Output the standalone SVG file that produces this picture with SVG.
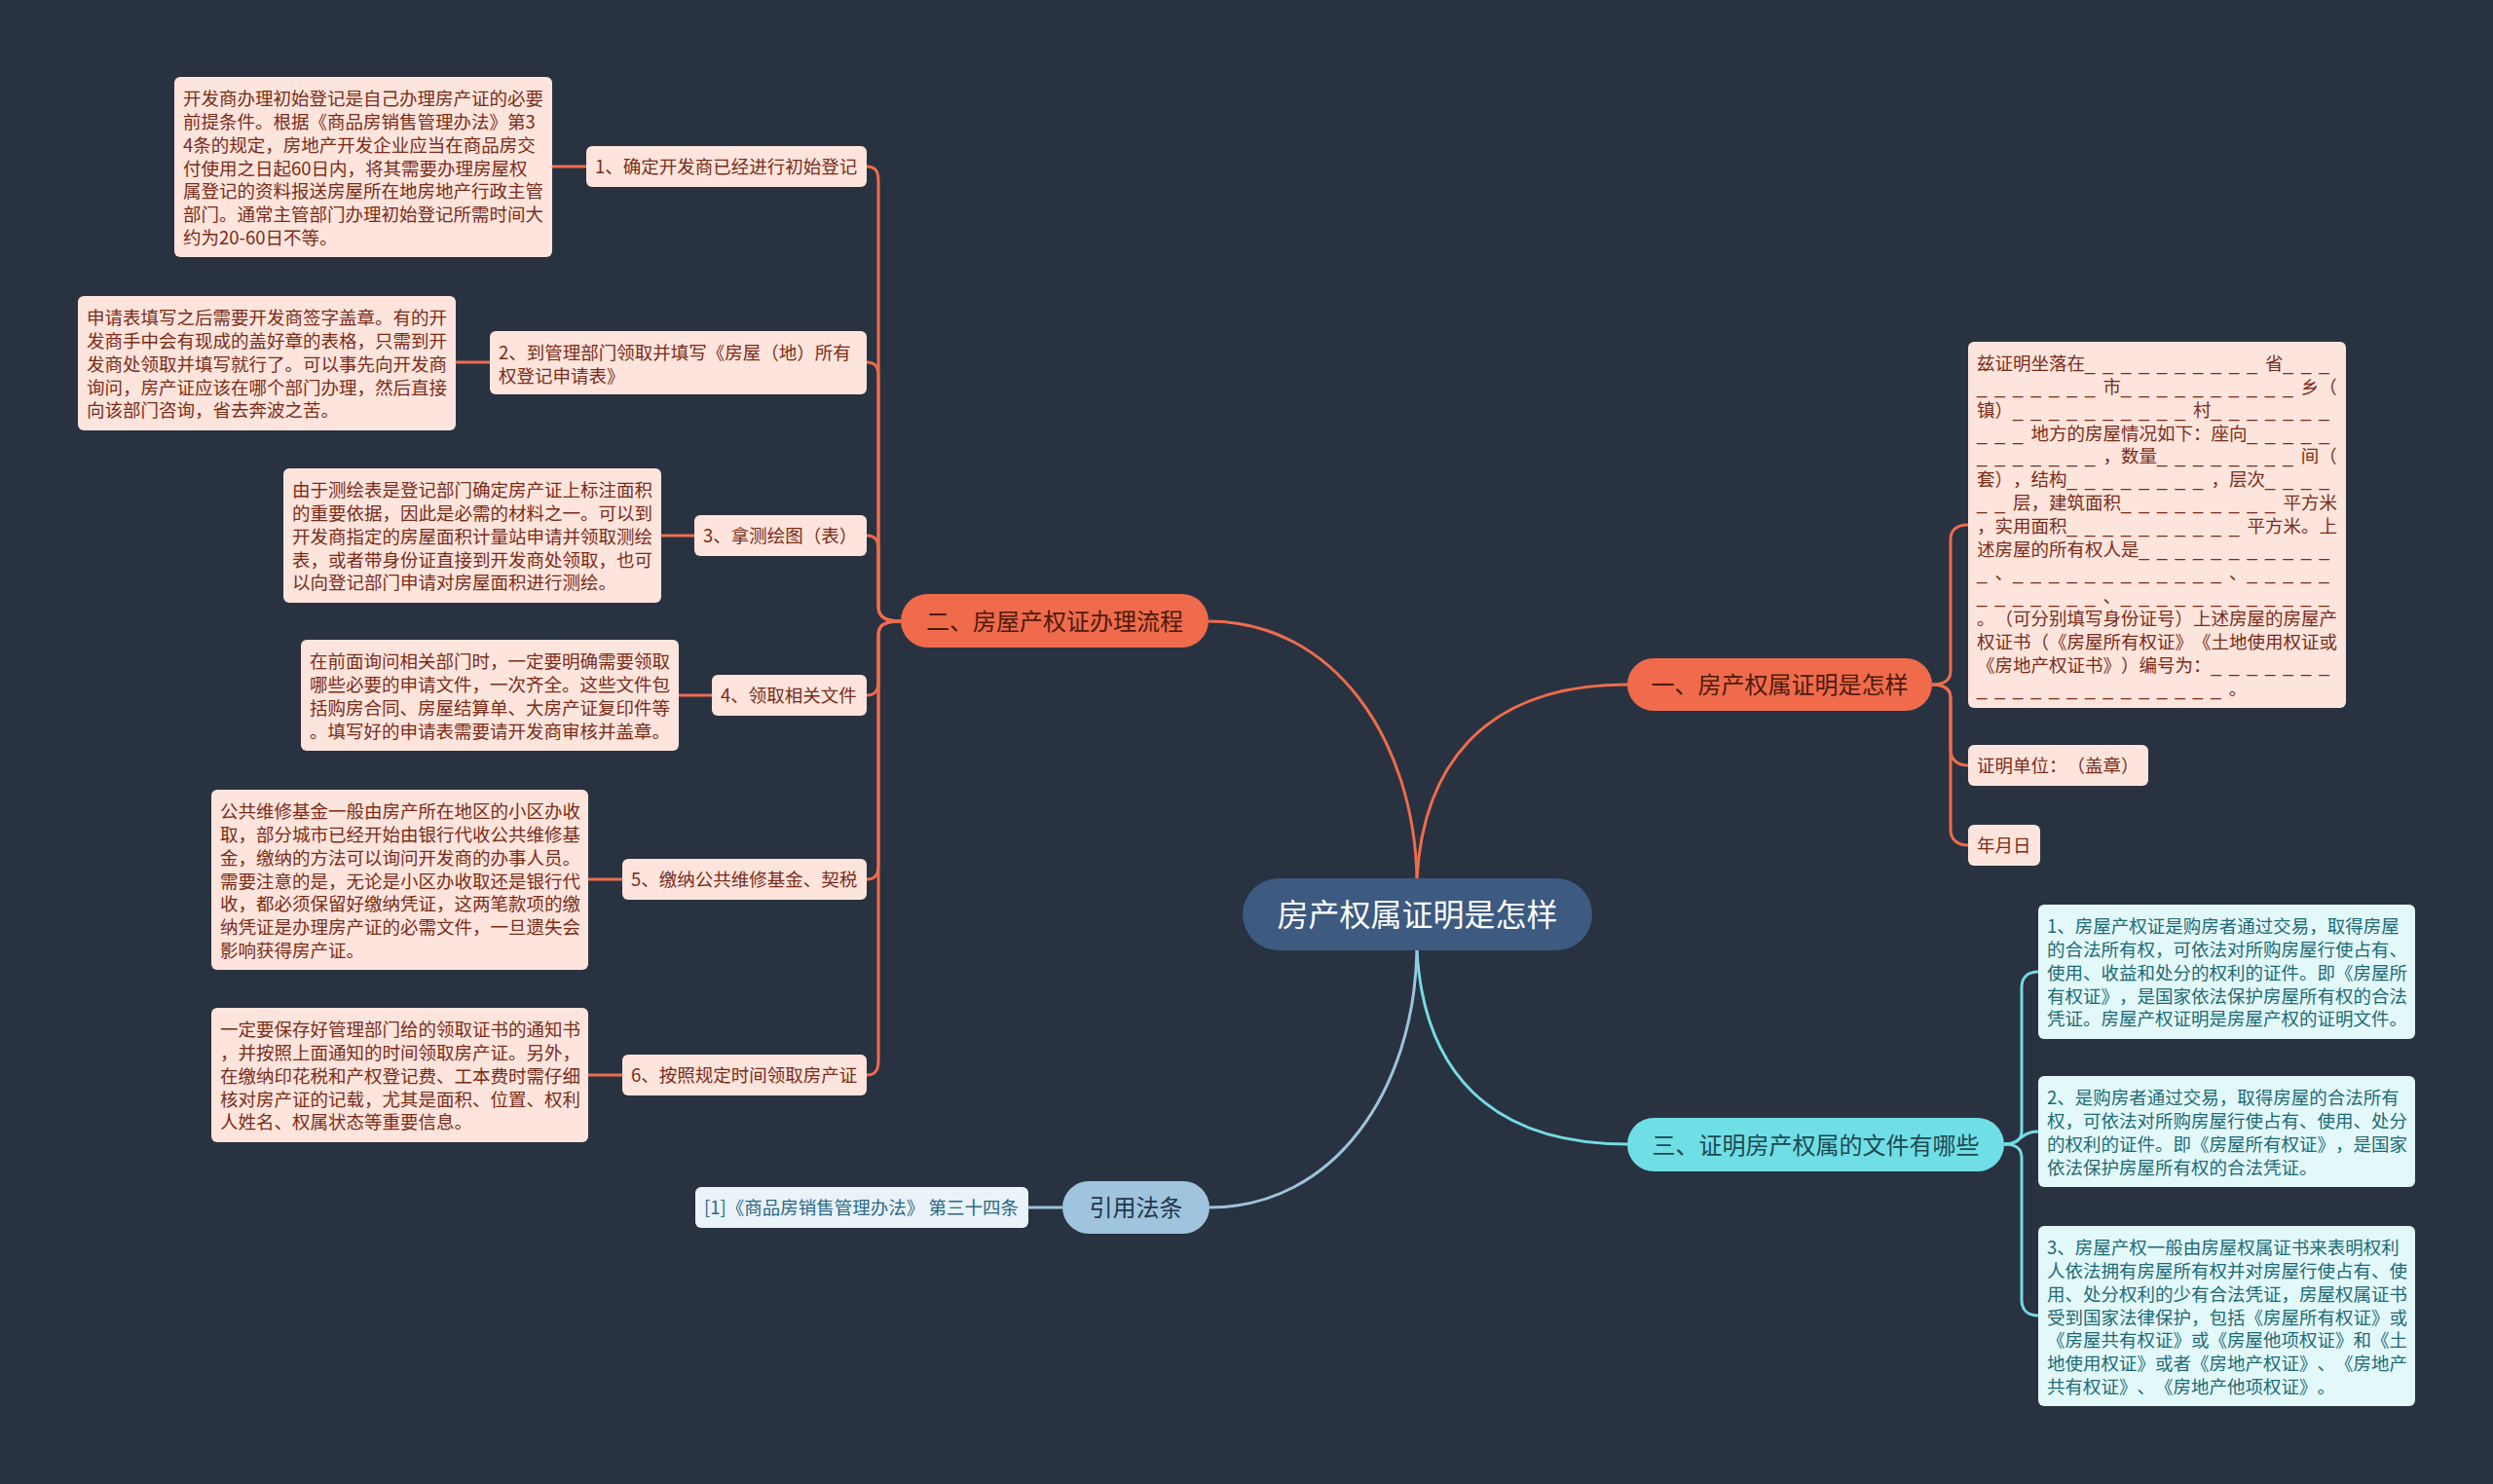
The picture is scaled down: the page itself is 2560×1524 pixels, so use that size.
<svg xmlns="http://www.w3.org/2000/svg" width="2560" height="1524" viewBox="0 0 2560 1524">
<style>
text{text-spacing-trim:space-all}
.t{font-family:"Noto Sans CJK SC","Noto Sans",sans-serif;font-size:18.5px}
.b{font-family:"Noto Sans CJK SC","Noto Sans",sans-serif;font-size:24px}
.pk{fill:#7a2c18}
.tl{fill:#1b6b75}
.u{font-family:"Liberation Sans",sans-serif;letter-spacing:8.2px}
.pbox{fill:#fde4dc}
.cbox{fill:#e3f8f9}
.lc{fill:none;stroke:#ee6c4d;stroke-width:3}
.lt{fill:none;stroke:#74dbe3;stroke-width:3}
.lb{fill:none;stroke:#9ec3dc;stroke-width:3}
</style>
<rect x="0" y="0" width="2560" height="1524" fill="#293240"/>

<g id="connectors">
  <path class="lc" d="M1455 902 C1452 760 1370 638 1241 638"/>
  <path class="lc" d="M1455 902 C1462 780 1530 703 1671 703"/>
  <path class="lt" d="M1455 976 C1462 1100 1530 1175 1671 1175"/>
  <path class="lb" d="M1455 976 C1452 1120 1370 1240 1242 1240"/>
  <path class="lb" d="M1091 1240 L1056 1240"/>
  <path class="lc" d="M890 171 C900 171 902 177 902 187 L902 623 C902 633 908 638 925 638"/>
  <path class="lc" d="M890 372 C900 372 902 378 902 388 L902 623 C902 633 908 638 925 638"/>
  <path class="lc" d="M890 550 C900 550 902 556 902 566 L902 623 C902 633 908 638 925 638"/>
  <path class="lc" d="M890 714 C900 714 902 708 902 698 L902 652 C902 642 908 638 925 638"/>
  <path class="lc" d="M890 903 C900 903 902 897 902 887 L902 652 C902 642 908 638 925 638"/>
  <path class="lc" d="M890 1104 C900 1104 902 1098 902 1088 L902 652 C902 642 908 638 925 638"/>
  <path class="lc" d="M567 171 L602 171"/>
  <path class="lc" d="M468 372 L503 372"/>
  <path class="lc" d="M679 550 L713 550"/>
  <path class="lc" d="M697 714 L731 714"/>
  <path class="lc" d="M604 903 L639 903"/>
  <path class="lc" d="M604 1104 L639 1104"/>
  <path class="lc" d="M1984 703 C1996 703 2003 699 2003 689 L2003 554 C2003 544 2010 539 2021 539"/>
  <path class="lc" d="M1984 703 C1996 703 2003 707 2003 717 L2003 770 C2003 780 2010 786 2021 786"/>
  <path class="lc" d="M1984 703 C1996 703 2003 707 2003 717 L2003 852 C2003 862 2010 868 2021 868"/>
  <path class="lt" d="M2058 1175 C2070 1175 2076 1171 2076 1161 L2076 1014 C2076 1004 2082 998 2093 998"/>
  <path class="lt" d="M2058 1175 C2076 1175 2074 1162 2093 1162"/>
  <path class="lt" d="M2058 1175 C2070 1175 2076 1179 2076 1189 L2076 1335 C2076 1345 2082 1351 2093 1351"/>
</g>

<g id="center">
  <rect x="1276" y="902" width="359" height="74" rx="37" fill="#3d5a80"/>
  <text x="1455.5" y="951" text-anchor="middle" font-family="Noto Sans CJK SC, Noto Sans, sans-serif" font-size="32" fill="#ffffff">房产权属证明是怎样</text>
</g>

<g id="branch-2">
  <rect x="925" y="610" width="316" height="55" rx="27.5" fill="#ef6b4c"/>
  <text class="b" x="1083" y="646.5" text-anchor="middle" fill="#4d1a0d">二、房屋产权证办理流程</text>
</g>
<g id="branch-1">
  <rect x="1671" y="676" width="313" height="54" rx="27" fill="#ef6b4c"/>
  <text class="b" x="1827.5" y="712" text-anchor="middle" fill="#4d1a0d">一、房产权属证明是怎样</text>
</g>
<g id="branch-3">
  <rect x="1671" y="1148" width="387" height="55" rx="27.5" fill="#70dee5"/>
  <text class="b" x="1864.5" y="1184.5" text-anchor="middle" fill="#1b4a52">三、证明房产权属的文件有哪些</text>
</g>
<g id="branch-law">
  <rect x="1091" y="1213" width="151" height="54" rx="27" fill="#9fc4dd"/>
  <text class="b" x="1166.5" y="1249" text-anchor="middle" fill="#24364a">引用法条</text>
</g>

<g id="law-1">
  <rect x="714" y="1219" width="342" height="42" rx="6" fill="#e9f3f8"/>
  <text class="t" x="723" y="1247" fill="#2c6784">[1]《商品房销售管理办法》 第三十四条</text>
</g>

<g id="step-1">
  <rect class="pbox" x="602" y="150" width="288" height="42" rx="6"/>
  <text class="t pk" x="611" y="178">1、确定开发商已经进行初始登记</text>
</g>
<g id="step-1-detail">
  <rect class="pbox" x="179" y="79" width="388" height="185" rx="6"/>
  <text class="t pk"><tspan x="188" y="108">开发商办理初始登记是自己办理房产证的必要</tspan><tspan x="188" dy="23.85">前提条件。根据《商品房销售管理办法》第3</tspan><tspan x="188" dy="23.85">4条的规定，房地产开发企业应当在商品房交</tspan><tspan x="188" dy="23.85">付使用之日起60日内，将其需要办理房屋权</tspan><tspan x="188" dy="23.85">属登记的资料报送房屋所在地房地产行政主管</tspan><tspan x="188" dy="23.85">部门。通常主管部门办理初始登记所需时间大</tspan><tspan x="188" dy="23.85">约为20-60日不等。</tspan></text>
</g>

<g id="step-2">
  <rect class="pbox" x="503" y="340" width="387" height="65" rx="6"/>
  <text class="t pk"><tspan x="512" y="369">2、到管理部门领取并填写《房屋（地）所有</tspan><tspan x="512" dy="23.85">权登记申请表》</tspan></text>
</g>
<g id="step-2-detail">
  <rect class="pbox" x="80" y="304" width="388" height="138" rx="6"/>
  <text class="t pk"><tspan x="89" y="333">申请表填写之后需要开发商签字盖章。有的开</tspan><tspan x="89" dy="23.85">发商手中会有现成的盖好章的表格，只需到开</tspan><tspan x="89" dy="23.85">发商处领取并填写就行了。可以事先向开发商</tspan><tspan x="89" dy="23.85">询问，房产证应该在哪个部门办理，然后直接</tspan><tspan x="89" dy="23.85">向该部门咨询，省去奔波之苦。</tspan></text>
</g>

<g id="step-3">
  <rect class="pbox" x="713" y="529" width="177" height="42" rx="6"/>
  <text class="t pk" x="722" y="557">3、拿测绘图（表）</text>
</g>
<g id="step-3-detail">
  <rect class="pbox" x="291" y="481" width="388" height="138" rx="6"/>
  <text class="t pk"><tspan x="300" y="510">由于测绘表是登记部门确定房产证上标注面积</tspan><tspan x="300" dy="23.85">的重要依据，因此是必需的材料之一。可以到</tspan><tspan x="300" dy="23.85">开发商指定的房屋面积计量站申请并领取测绘</tspan><tspan x="300" dy="23.85">表，或者带身份证直接到开发商处领取，也可</tspan><tspan x="300" dy="23.85">以向登记部门申请对房屋面积进行测绘。</tspan></text>
</g>

<g id="step-4">
  <rect class="pbox" x="731" y="693" width="159" height="42" rx="6"/>
  <text class="t pk" x="740" y="721">4、领取相关文件</text>
</g>
<g id="step-4-detail">
  <rect class="pbox" x="309" y="657" width="388" height="114" rx="6"/>
  <text class="t pk"><tspan x="318" y="686">在前面询问相关部门时，一定要明确需要领取</tspan><tspan x="318" dy="23.85">哪些必要的申请文件，一次齐全。这些文件包</tspan><tspan x="318" dy="23.85">括购房合同、房屋结算单、大房产证复印件等</tspan><tspan x="318" dy="23.85">。填写好的申请表需要请开发商审核并盖章。</tspan></text>
</g>

<g id="step-5">
  <rect class="pbox" x="639" y="882" width="251" height="42" rx="6"/>
  <text class="t pk" x="648" y="910">5、缴纳公共维修基金、契税</text>
</g>
<g id="step-5-detail">
  <rect class="pbox" x="217" y="811" width="387" height="185" rx="6"/>
  <text class="t pk"><tspan x="226" y="840">公共维修基金一般由房产所在地区的小区办收</tspan><tspan x="226" dy="23.85">取，部分城市已经开始由银行代收公共维修基</tspan><tspan x="226" dy="23.85">金，缴纳的方法可以询问开发商的办事人员。</tspan><tspan x="226" dy="23.85">需要注意的是，无论是小区办收取还是银行代</tspan><tspan x="226" dy="23.85">收，都必须保留好缴纳凭证，这两笔款项的缴</tspan><tspan x="226" dy="23.85">纳凭证是办理房产证的必需文件，一旦遗失会</tspan><tspan x="226" dy="23.85">影响获得房产证。</tspan></text>
</g>

<g id="step-6">
  <rect class="pbox" x="639" y="1083" width="251" height="42" rx="6"/>
  <text class="t pk" x="648" y="1111">6、按照规定时间领取房产证</text>
</g>
<g id="step-6-detail">
  <rect class="pbox" x="217" y="1035" width="387" height="138" rx="6"/>
  <text class="t pk"><tspan x="226" y="1064">一定要保存好管理部门给的领取证书的通知书</tspan><tspan x="226" dy="23.85">，并按照上面通知的时间领取房产证。另外，</tspan><tspan x="226" dy="23.85">在缴纳印花税和产权登记费、工本费时需仔细</tspan><tspan x="226" dy="23.85">核对房产证的记载，尤其是面积、位置、权利</tspan><tspan x="226" dy="23.85">人姓名、权属状态等重要信息。</tspan></text>
</g>

<g id="proof-form">
  <rect class="pbox" x="2021" y="351" width="388" height="376" rx="6"/>
  <text class="t pk"><tspan x="2030" y="380">兹证明坐落在</tspan><tspan class="u">__________</tspan><tspan>省</tspan><tspan class="u">___</tspan><tspan x="2030" dy="23.85" class="u">_______</tspan><tspan>市</tspan><tspan class="u">__________</tspan><tspan>乡（</tspan><tspan x="2030" dy="23.85">镇）</tspan><tspan class="u">__________</tspan><tspan>村</tspan><tspan class="u">_______</tspan><tspan x="2030" dy="23.85" class="u">___</tspan><tspan>地方的房屋情况如下：座向</tspan><tspan class="u">_____</tspan><tspan x="2030" dy="23.85" class="u">_______</tspan><tspan>，数量</tspan><tspan class="u">________</tspan><tspan>间（</tspan><tspan x="2030" dy="23.85">套），结构</tspan><tspan class="u">________</tspan><tspan>，层次</tspan><tspan class="u">____</tspan><tspan x="2030" dy="23.85" class="u">__</tspan><tspan>层，建筑面积</tspan><tspan class="u">_________</tspan><tspan>平方米</tspan><tspan x="2030" dy="23.85">，实用面积</tspan><tspan class="u">__________</tspan><tspan>平方米。上</tspan><tspan x="2030" dy="23.85">述房屋的所有权人是</tspan><tspan class="u">___________</tspan><tspan x="2030" dy="23.85" class="u">_</tspan><tspan>、</tspan><tspan class="u">____________</tspan><tspan>、</tspan><tspan class="u">_____</tspan><tspan x="2030" dy="23.85" class="u">_______</tspan><tspan>、</tspan><tspan class="u">____________</tspan><tspan x="2030" dy="23.85">。（可分别填写身份证号）上述房屋的房屋产</tspan><tspan x="2030" dy="23.85">权证书（《房屋所有权证》《土地使用权证或</tspan><tspan x="2030" dy="23.85">《房地产权证书》）编号为：</tspan><tspan class="u">_______</tspan><tspan x="2030" dy="23.85" class="u">______________</tspan><tspan>。</tspan></text>
</g>
<g id="proof-unit">
  <rect class="pbox" x="2021" y="765" width="185" height="42" rx="6"/>
  <text class="t pk" x="2030" y="793">证明单位：（盖章）</text>
</g>
<g id="proof-date">
  <rect class="pbox" x="2021" y="847" width="74" height="42" rx="6"/>
  <text class="t pk" x="2030" y="875">年月日</text>
</g>

<g id="doc-1">
  <rect class="cbox" x="2093" y="929" width="387" height="138" rx="6"/>
  <text class="t tl"><tspan x="2102" y="958">1、房屋产权证是购房者通过交易，取得房屋</tspan><tspan x="2102" dy="23.85">的合法所有权，可依法对所购房屋行使占有、</tspan><tspan x="2102" dy="23.85">使用、收益和处分的权利的证件。即《房屋所</tspan><tspan x="2102" dy="23.85">有权证》，是国家依法保护房屋所有权的合法</tspan><tspan x="2102" dy="23.85">凭证。房屋产权证明是房屋产权的证明文件。</tspan></text>
</g>
<g id="doc-2">
  <rect class="cbox" x="2093" y="1105" width="387" height="114" rx="6"/>
  <text class="t tl"><tspan x="2102" y="1134">2、是购房者通过交易，取得房屋的合法所有</tspan><tspan x="2102" dy="23.85">权，可依法对所购房屋行使占有、使用、处分</tspan><tspan x="2102" dy="23.85">的权利的证件。即《房屋所有权证》，是国家</tspan><tspan x="2102" dy="23.85">依法保护房屋所有权的合法凭证。</tspan></text>
</g>
<g id="doc-3">
  <rect class="cbox" x="2093" y="1259" width="387" height="185" rx="6"/>
  <text class="t tl"><tspan x="2102" y="1288">3、房屋产权一般由房屋权属证书来表明权利</tspan><tspan x="2102" dy="23.85">人依法拥有房屋所有权并对房屋行使占有、使</tspan><tspan x="2102" dy="23.85">用、处分权利的少有合法凭证，房屋权属证书</tspan><tspan x="2102" dy="23.85">受到国家法律保护，包括《房屋所有权证》或</tspan><tspan x="2102" dy="23.85">《房屋共有权证》或《房屋他项权证》和《土</tspan><tspan x="2102" dy="23.85">地使用权证》或者《房地产权证》、《房地产</tspan><tspan x="2102" dy="23.85">共有权证》、《房地产他项权证》。</tspan></text>
</g>
</svg>
